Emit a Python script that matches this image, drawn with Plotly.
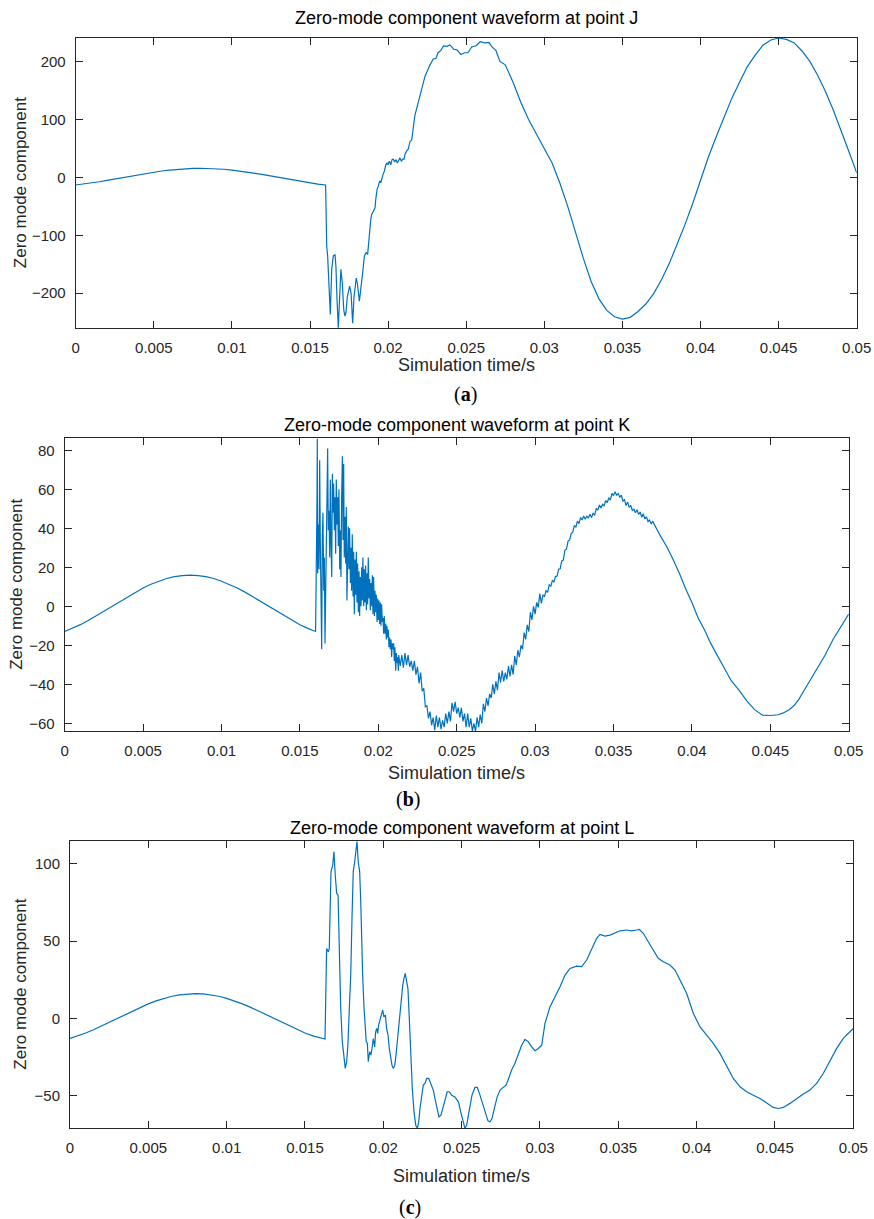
import plotly.graph_objects as go

# ---------------- data ----------------
x_tick_vals = [0, 0.005, 0.01, 0.015, 0.02, 0.025, 0.03, 0.035, 0.04, 0.045, 0.05]
x_tick_text = ["0", "0.005", "0.01", "0.015", "0.02", "0.025", "0.03", "0.035", "0.04", "0.045", "0.05"]

# pre-fault part (common shape in all three panels)
t_pre = [0.0000, 0.0005, 0.0010, 0.0015, 0.0020, 0.0025, 0.0030, 0.0035, 0.0040, 0.0045,
         0.0050, 0.0055, 0.0060, 0.0065, 0.0070, 0.0075, 0.0080, 0.0085, 0.0090, 0.0095,
         0.0100, 0.0105, 0.0110, 0.0115, 0.0120, 0.0125, 0.0130, 0.0135, 0.0140, 0.0145,
         0.0150, 0.0155, 0.0160]
v_pre = [-12.9, -11.3, -9.4, -7.3, -4.9, -2.5, 0.0, 2.5, 4.9, 7.3,
         9.4, 11.3, 12.9, 14.3, 15.2, 15.8, 16.0, 15.8, 15.2, 14.3,
         12.9, 11.3, 9.4, 7.3, 4.9, 2.5, 0.0, -2.5, -4.9, -7.3,
         -9.4, -11.3, -12.9]

# ---- panel (a): point J ----
ta_fault = [0.01607, 0.01613, 0.01622, 0.01630, 0.01639, 0.01649, 0.01660, 0.01666, 0.01673, 0.01681,
            0.01692, 0.01698, 0.01707, 0.01716, 0.01724, 0.01730, 0.01739, 0.01745, 0.01754, 0.01763,
            0.01767, 0.01773, 0.01782, 0.01790, 0.01796, 0.01803, 0.01809, 0.01816, 0.01822, 0.01831,
            0.01837, 0.01848, 0.01859, 0.01869, 0.01873, 0.01880, 0.01889, 0.01895, 0.01901, 0.01908,
            0.01916, 0.01921, 0.01929, 0.01937, 0.01946, 0.01953, 0.01959, 0.01967, 0.01976, 0.01985,
            0.01993, 0.01999, 0.02008, 0.02017, 0.02025, 0.02033, 0.02042, 0.02051, 0.02059, 0.02068,
            0.02076, 0.02085, 0.02093, 0.02102, 0.02108, 0.02119, 0.02129, 0.02140, 0.02151]
va_fault = [-119, -136, -188, -237, -159, -136, -133, -154, -211, -260,
            -194, -159, -183, -229, -240, -234, -206, -200, -188, -200,
            -223, -252, -206, -183, -174, -183, -194, -214, -200, -171,
            -165, -136, -130, -133, -119, -96, -73, -64, -61, -58,
            -53, -38, -21, -15, -6, -9, -1, 5, 11, 22,
            25, 22, 28, 22, 31, 32, 27, 31, 25, 31,
            34, 28, 32, 32, 40, 46, 49, 62, 65]
ta_post = [0.02172, 0.02204, 0.02236, 0.02268, 0.02290, 0.02306, 0.02320, 0.02338, 0.02355, 0.02377,
           0.02395, 0.02421, 0.02440, 0.02466, 0.02490, 0.02511, 0.02535, 0.02563, 0.02590, 0.02620,
           0.02645, 0.02665, 0.02690, 0.02716,
           0.0275, 0.0280, 0.0285, 0.0290, 0.0295, 0.0300, 0.0305, 0.0310, 0.0315, 0.0320,
           0.0325, 0.0330, 0.0335, 0.0340, 0.0345, 0.0350, 0.0355, 0.0360, 0.0365, 0.0370,
           0.0375, 0.0380, 0.0385, 0.0390, 0.0395, 0.0400, 0.0405, 0.0410, 0.0415, 0.0420,
           0.0425, 0.0430, 0.0435, 0.0440, 0.0445, 0.0450, 0.0455, 0.0460, 0.0465, 0.0470,
           0.0475, 0.0480, 0.0485, 0.0490, 0.0495, 0.0500]
va_post = [108, 143, 175, 195, 205.5, 206, 216, 220, 228, 227,
           229.5, 222, 221, 213, 216, 216, 226, 228, 235, 233,
           234, 226, 220, 201,
           195, 165, 130, 100, 75, 50, 25, -10, -50, -95,
           -140, -180, -210, -230, -241, -245, -242, -232, -219, -201,
           -177, -149, -117, -82, -45, -5, 35, 70, 105, 137,
           165, 192, 212, 229, 238, 241.5, 239, 233, 219, 201,
           177, 149, 117, 82, 45, 8]

# ---- panel (b): point K ----
tb_wild = [0.01609, 0.01611, 0.01613, 0.01618, 0.01622, 0.01626, 0.01630, 0.01635, 0.01639, 0.01643,
           0.01647, 0.01652, 0.01656, 0.01660, 0.01664, 0.01669, 0.01673, 0.01677, 0.01681, 0.01686,
           0.01690, 0.01694, 0.01698, 0.01703, 0.01707, 0.01711, 0.01715, 0.01720, 0.01724, 0.01728,
           0.01732, 0.01737, 0.01741, 0.01745, 0.01749, 0.01754, 0.01758, 0.01762, 0.01766, 0.01771,
           0.01775, 0.01779, 0.01783, 0.01788, 0.01792, 0.01796, 0.01800, 0.01805, 0.01809, 0.01813,
           0.01817, 0.01822, 0.01826, 0.01830, 0.01834, 0.01839, 0.01843, 0.01847, 0.01851, 0.01856,
           0.01860, 0.01864, 0.01868, 0.01873, 0.01877, 0.01881, 0.01885, 0.01890, 0.01894, 0.01898,
           0.01902, 0.01907, 0.01911, 0.01915, 0.01919, 0.01924, 0.01928, 0.01932, 0.01936, 0.01941,
           0.01945, 0.01949, 0.01953, 0.01958, 0.01962, 0.01966, 0.01970, 0.01975, 0.01979, 0.01983,
           0.01987, 0.01992, 0.01996, 0.02000, 0.02004, 0.02009, 0.02013, 0.02017, 0.02021, 0.02026,
           0.02030, 0.02034, 0.02038, 0.02043, 0.02047, 0.02051, 0.02055, 0.02060, 0.02064, 0.02068,
           0.02072, 0.02077, 0.02081, 0.02085, 0.02089, 0.02094, 0.02098, 0.02102, 0.02106, 0.02111,
           0.02115, 0.02119, 0.02123, 0.02128]
vb_wild = [54, 86, 17, 42, 19, 75, 34, 13, -22, 36,
           48, 8, 25, -19, 5, 49, 60, 81, 39, 49,
           25, 65, 34, 15, 68, 48, 63, 39, 56, 27,
           65, 42, 56, 31, 60, 19, 39, 15, 56, 77,
           34, 73, 25, 46, 22, 51, 3, 29, 41, 19,
           40, 12, 30, 8, 37, 5, 28, -4, 24, 6,
           28, 2, 22, -3, 18, -5, 15, 0, 20, 3,
           25, 0, 19, 2, 21, -2, 17, 1, 25, 4,
           14, -2, 12, 0, 16, -4, 15, -5, 8, -3,
           6, -8, 4, -7, 3, -9, 2, -10, 1, -8,
           -6, -14, -5, -14, -9, -17, -10, -16, -12, -21,
           -16, -22, -17, -26, -19, -22, -19, -28, -21, -33,
           -24, -29, -26, -33]
tb_mid = [0.0213, 0.0214, 0.0215, 0.0216, 0.0217, 0.0218, 0.0219, 0.0220, 0.0221, 0.0222,
          0.0223, 0.0224, 0.0225, 0.0226, 0.0227, 0.0228, 0.0229, 0.0230, 0.0231, 0.0232,
          0.0233, 0.0234, 0.0235, 0.0236, 0.0237, 0.0238, 0.0239, 0.0240, 0.0241, 0.0242,
          0.0243, 0.0244, 0.0245, 0.0246, 0.0247, 0.0248, 0.0249, 0.0250, 0.0251, 0.0252,
          0.0253, 0.0254, 0.0255, 0.0256, 0.0257, 0.0258, 0.0259, 0.0260, 0.0261, 0.0262,
          0.0263, 0.0264, 0.0265, 0.0266, 0.0267, 0.0268, 0.0269, 0.0270, 0.0271, 0.0272,
          0.0273, 0.0274, 0.0275, 0.0276, 0.0277, 0.0278, 0.0279, 0.0280, 0.0281, 0.0282,
          0.0283, 0.0284, 0.0285, 0.0286, 0.0287, 0.0288, 0.0289, 0.0290, 0.0291, 0.0292,
          0.0293, 0.0294, 0.0295, 0.0296, 0.0297, 0.0298, 0.0299, 0.0300, 0.0301, 0.0302,
          0.0303, 0.0304]
vb_mid = [-25, -30.5, -25, -31.5, -24, -30, -25, -31, -28, -33,
          -28, -35, -31, -39.5, -34, -43.5, -42, -51.5, -51, -57.5,
          -54, -61, -57, -63.5, -56, -62, -57, -63, -58.5, -62,
          -55, -60, -54, -59, -49.5, -54, -49, -55, -52, -57,
          -52, -59, -55, -62, -55, -62, -57.5, -64, -60, -64,
          -57, -62, -55.5, -60, -50, -54, -47, -51, -45, -47,
          -40, -45, -38.5, -43, -34, -39, -33, -38.5, -34, -37.4,
          -30.7, -36, -30, -35, -25.5, -30, -22.5, -26, -20, -22,
          -13.5, -17, -9.5, -13, -3, -7, 0, -4, 2, -0.5,
          6.5, 1.5]
tb_rise = [0.0305, 0.0306, 0.0307, 0.0308, 0.0309, 0.0310, 0.0311, 0.0312, 0.0313, 0.0314,
           0.0315, 0.0316, 0.0317, 0.0318, 0.0319, 0.0320, 0.0321, 0.0322, 0.0323, 0.0324,
           0.0325, 0.0326, 0.0327, 0.0328, 0.0329, 0.0330, 0.0331, 0.0332, 0.0333, 0.0334,
           0.0335, 0.0336, 0.0337, 0.0338, 0.0339, 0.0340, 0.0341, 0.0342, 0.0343, 0.0344,
           0.0345, 0.0346, 0.0347, 0.0348, 0.0349, 0.0350, 0.0351, 0.0352, 0.0353, 0.0354,
           0.0355, 0.0356, 0.0357, 0.0358, 0.0359, 0.0360, 0.0361, 0.0362, 0.0363, 0.0364,
           0.0365, 0.0366, 0.0367, 0.0368, 0.0369, 0.0370, 0.0371, 0.0372, 0.0373, 0.0374,
           0.0375]
vb_rise = [5.9, 5.1, 8.0, 7.2, 11.0, 10.3, 13.2, 12.5, 15.3, 15.5,
           19.0, 19.3, 23.3, 23.7, 28.8, 29.3, 33.5, 34.0, 37.3, 38.0,
           41.3, 40.7, 43.7, 42.4, 45.6, 44.3, 46.3, 44.7, 46.3, 45.2,
           47.3, 45.5, 47.9, 46.7, 50.3, 49.3, 52.0, 50.5, 52.3, 51.5,
           54.3, 53.2, 55.7, 54.5, 58.0, 56.8, 58.8, 57.0, 57.8, 56.0,
           57.0, 54.0, 54.7, 51.7, 53.5, 50.8, 51.8, 49.2, 49.8, 48.0,
           49.6, 47.1, 48.4, 45.7, 47.5, 44.8, 46.0, 43.5, 44.3, 42.3,
           43.6]
tb_tail = [0.0380, 0.0384, 0.0388, 0.0392, 0.0396, 0.0400, 0.0404, 0.0408, 0.0412, 0.0416,
           0.0420, 0.0425, 0.0430, 0.0435, 0.0440, 0.0445, 0.0450, 0.0455, 0.0458, 0.0462,
           0.0465, 0.0468, 0.0472, 0.0476, 0.0480, 0.0485, 0.0490, 0.0495, 0.0500]
vb_tail = [36, 30.6, 24, 17, 9, 2, -6, -12, -19, -25,
           -31, -38, -43, -48.5, -53, -55.8, -56, -55.6, -54.8, -53,
           -51, -48, -42.5, -37, -31.5, -25, -17, -10.5, -4]

# ---- panel (c): point L ----
tc_fault = [0.01628, 0.01638, 0.01649, 0.01655, 0.01666, 0.01677, 0.01685, 0.01693, 0.01702, 0.01711,
            0.01719, 0.01728, 0.01738, 0.01749, 0.01757, 0.01766, 0.01774, 0.01783, 0.01792, 0.01800,
            0.01808, 0.01817, 0.01826, 0.01832, 0.01840, 0.01849, 0.01856, 0.01862, 0.01868, 0.01877,
            0.01885, 0.01891, 0.01898, 0.01904, 0.01913, 0.01921, 0.01928, 0.01936, 0.01945, 0.01951,
            0.01958, 0.01964, 0.01970, 0.01979, 0.01987, 0.01996, 0.02004, 0.02013, 0.02021, 0.02030,
            0.02038, 0.02047, 0.02055, 0.02064, 0.02073, 0.02081, 0.02089, 0.02098, 0.02106, 0.02115,
            0.02124, 0.02132, 0.02140, 0.02149, 0.02157, 0.02164, 0.02170, 0.02177, 0.02185, 0.02196,
            0.02207, 0.02217, 0.02226, 0.02234, 0.02245, 0.02255, 0.02266, 0.02277, 0.02290, 0.02298,
            0.02319, 0.02341, 0.02355, 0.02368, 0.02379, 0.02394, 0.02408, 0.02421, 0.02436, 0.02457,
            0.02479, 0.02494, 0.02510, 0.02521, 0.02532, 0.02549, 0.02566, 0.02585, 0.02600, 0.02617,
            0.02634, 0.02651, 0.02668, 0.02681, 0.02694, 0.02711, 0.02727, 0.02745, 0.02766, 0.02783,
            0.02800, 0.02819, 0.02840, 0.02862, 0.02883, 0.02904, 0.02925, 0.02947, 0.02968, 0.02989,
            0.03011, 0.03032, 0.03064, 0.03096, 0.03128, 0.03160, 0.03192, 0.03234, 0.03266, 0.03298,
            0.03330, 0.03362, 0.03383, 0.03415, 0.03447, 0.03479, 0.03511, 0.03553, 0.03585, 0.03617,
            0.03634, 0.03659, 0.03691, 0.03723, 0.03755, 0.03787, 0.03830, 0.03862, 0.03894, 0.03936,
            0.03979, 0.04021, 0.04064, 0.04106, 0.04149, 0.04192, 0.04234, 0.04277, 0.04319, 0.04362,
            0.04404, 0.04447, 0.04489, 0.04521, 0.04553, 0.04596, 0.04638, 0.04681, 0.04723, 0.04766,
            0.04808, 0.04851, 0.04894, 0.04936, 0.05000]
vc_fault = [-13.3, 45.2, 43, 45, 94.8, 99, 107.7, 92.6, 80.8, 79.7,
            43, 6.5, -15, -23.7, -32.3, -28, -17, 6.5, 28, 64.6,
            94.8, 101, 110, 114.2, 101, 94.8, 75.4, 45.2, 28, 6.5,
            -10.8, -15, -16, -28, -21.6, -23.7, -19.4, -13, -18.4, -8.7,
            -6.5, -9.7, -4.3, -1.1, 2.1, 5.4, 1, 2.1, -6.5, -10.8,
            -19.4, -25.9, -30.2, -32.3, -30.2, -23.7, -15, -6.5, 4.3, 13,
            21.5, 25.9, 29.1, 23.7, 19.4, 4.3, -10.8, -28, -45.2, -60.4,
            -69, -71, -66.8, -58.2, -49.6, -43.1, -42, -38.8, -38.8, -41,
            -46.3, -57.1, -63.6, -62.5, -58.2, -52.8, -47.4, -47.4, -49.6, -50.7,
            -53.9, -60.4, -66.8, -71, -69, -59.3, -49.6, -44.6, -44.6, -49.6,
            -55, -61.4, -66.2, -66.8, -64.6, -57.1, -50.7, -46.3, -44.6, -43.1,
            -38.8, -33.4, -29.1, -23.7, -17.3, -13.6, -15, -18.4, -20.9, -19.4,
            -17.3, -3.2, 7.5, 14, 20.4, 28, 32.3, 33.8, 33.4, 37.7,
            44.2, 51.7, 54.3, 53.2, 53.8, 55.3, 56.6, 57.1, 56.6, 57.1,
            57.5, 55, 49.5, 44.2, 38.8, 36.6, 34.5, 31.2, 24.8, 16.2,
            3.2, -5.4, -10.8, -16.2, -22.6, -31.3, -38.8, -44.2, -47.4, -49.6,
            -51.7, -54.6, -57.5, -58.2, -57.5, -54.9, -51.7, -48.9, -46.3, -42,
            -35.6, -27, -19.4, -12.9, -6.5]

for name, tt, vv in [("a_fault", ta_fault, va_fault), ("a_post", ta_post, va_post),
                     ("b_wild", tb_wild, vb_wild), ("b_mid", tb_mid, vb_mid),
                     ("b_rise", tb_rise, vb_rise), ("b_tail", tb_tail, vb_tail),
                     ("c_fault", tc_fault, vc_fault), ("pre", t_pre, v_pre)]:
    if len(tt) != len(vv):
        raise ValueError(f"{name}: {len(tt)} times vs {len(vv)} values")

ta = t_pre + ta_fault + ta_post
va = v_pre + va_fault + va_post
tb = t_pre + tb_wild + tb_mid + tb_rise + tb_tail
vb = v_pre + vb_wild + vb_mid + vb_rise + vb_tail
tc = t_pre + tc_fault
vc = v_pre + vc_fault

# ---------------- layout ----------------
W, H = 874, 1219
LINE = "#0072BD"
AX = "#262626"
FONT = "Liberation Sans, Arial, sans-serif"

panels = [
    dict(t=ta, v=va, px=(75.7, 856.7), py=(38, 328.3), yr=[-261, 241.5],
         yt=[-200, -100, 0, 100, 200], title="Zero-mode component waveform at point J",
         ttl_y=18, xl_y=365, cap_y=394, cap_x=466, yl_x=20, cap="a"),
    dict(t=tb, v=vb, px=(64.7, 848.7), py=(438.3, 731.3), yr=[-64.1, 86.2],
         yt=[-60, -40, -20, 0, 20, 40, 60, 80], title="Zero-mode component waveform at point K",
         ttl_y=425, xl_y=773, cap_y=799, cap_x=408, yl_x=17, cap="b"),
    dict(t=tc, v=vc, px=(70, 853.3), py=(841, 1128.3), yr=[-71, 114.6],
         yt=[-50, 0, 50, 100], title="Zero-mode component waveform at point L",
         ttl_y=828, xl_y=1176, cap_y=1207, cap_x=410, yl_x=21, cap="c"),
]

fig = go.Figure()
annotations = []
for i, p in enumerate(panels):
    k = "" if i == 0 else str(i + 1)
    fig.add_trace(go.Scatter(x=p["t"], y=p["v"], mode="lines",
                             line=dict(color=LINE, width=1.2),
                             xaxis="x" + k, yaxis="y" + k, showlegend=False,
                             hoverinfo="skip"))
    x0, x1 = p["px"]
    y0, y1 = p["py"]
    fig.layout["xaxis" + k] = dict(
        domain=[x0 / W, x1 / W], range=[0, 0.05], anchor="y" + k, automargin=False,
        tickvals=x_tick_vals, ticktext=x_tick_text,
        ticks="inside", ticklen=7, tickwidth=1, tickcolor=AX, ticklabelstandoff=6,
        showline=True, linecolor=AX, linewidth=1, mirror="ticks",
        showgrid=False, zeroline=False,
        tickfont=dict(family=FONT, size=15, color=AX))
    fig.layout["yaxis" + k] = dict(
        domain=[1 - y1 / H, 1 - y0 / H], range=p["yr"], anchor="x" + k, automargin=False,
        tickvals=p["yt"],
        ticks="inside", ticklen=7, tickwidth=1, tickcolor=AX, ticklabelstandoff=6,
        showline=True, linecolor=AX, linewidth=1, mirror="ticks",
        showgrid=False, zeroline=False,
        tickfont=dict(family=FONT, size=15, color=AX))
    xc = (x0 + x1) / 2 / W
    annotations.append(dict(text=p["title"], x=xc, y=1 - p["ttl_y"] / H, xref="paper", yref="paper",
                            xanchor="center", yanchor="middle", showarrow=False,
                            font=dict(family=FONT, size=18, color="#000000")))
    annotations.append(dict(text="Simulation time/s", x=xc, y=1 - p["xl_y"] / H, xref="paper", yref="paper",
                            xanchor="center", yanchor="middle", showarrow=False,
                            font=dict(family=FONT, size=18, color=AX)))
    annotations.append(dict(text="Zero mode component", x=p["yl_x"] / W, y=1 - (y0 + y1) / 2 / H,
                            xref="paper", yref="paper", textangle=-90,
                            xanchor="center", yanchor="middle", showarrow=False,
                            font=dict(family=FONT, size=17, color=AX)))
    annotations.append(dict(text="(<b>" + p["cap"] + "</b>)", x=p["cap_x"] / W, y=1 - p["cap_y"] / H,
                            xref="paper", yref="paper", xanchor="center", yanchor="middle",
                            showarrow=False,
                            font=dict(family="Liberation Serif, DejaVu Serif, serif", size=20, color="#000000")))

fig.update_layout(width=W, height=H, margin=dict(l=0, r=0, t=0, b=0),
                  paper_bgcolor="white", plot_bgcolor="white",
                  showlegend=False, annotations=annotations)

fig.write_html("out.html")
